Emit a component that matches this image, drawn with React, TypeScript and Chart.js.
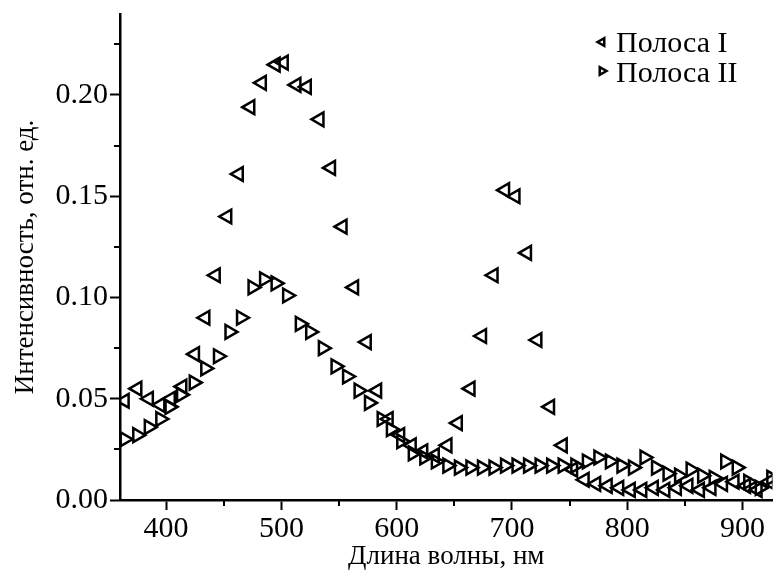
import React, { useEffect, useRef } from 'react';
import { Chart, registerables } from 'chart.js';

Chart.register(...registerables);

// ---- data ----
const seriesLabels = ['Полоса I', 'Полоса II'];

const band1Wavelengths = [364, 375, 385, 395, 404, 414, 425, 434, 443, 453, 463, 473, 483, 495, 502, 513, 522, 533, 543, 553, 563, 574, 583, 593, 603, 613, 623, 633, 644, 653, 664, 674, 684, 694, 703, 713, 722, 733, 744, 753, 763, 773, 783, 793, 803, 813, 823, 833, 843, 853, 863, 873, 883, 893, 903, 913, 923];
const band1Values = [0.049, 0.055, 0.050, 0.047, 0.050, 0.056, 0.072, 0.090, 0.111, 0.140, 0.161, 0.194, 0.206, 0.215, 0.216, 0.205, 0.204, 0.188, 0.164, 0.135, 0.105, 0.078, 0.054, 0.040, 0.032, 0.027, 0.024, 0.022, 0.027, 0.038, 0.055, 0.081, 0.111, 0.153, 0.150, 0.122, 0.079, 0.046, 0.027, 0.015, 0.010, 0.008, 0.007, 0.006, 0.005, 0.005, 0.006, 0.005, 0.006, 0.007, 0.005, 0.006, 0.008, 0.009, 0.007, 0.005, 0.009];

const band2Wavelengths = [364, 375, 385, 395, 403, 413, 424, 434, 445, 455, 465, 475, 485, 495, 505, 516, 525, 536, 547, 557, 567, 576, 587, 595, 604, 614, 624, 634, 644, 654, 664, 674, 684, 694, 704, 714, 724, 734, 744, 755, 765, 775, 785, 795, 805, 815, 825, 835, 845, 855, 865, 875, 885, 895, 905, 915, 925];
const band2Values = [0.030, 0.032, 0.036, 0.040, 0.046, 0.052, 0.058, 0.065, 0.071, 0.083, 0.090, 0.105, 0.109, 0.107, 0.101, 0.087, 0.083, 0.075, 0.066, 0.061, 0.054, 0.048, 0.040, 0.035, 0.029, 0.023, 0.021, 0.019, 0.017, 0.016, 0.016, 0.016, 0.016, 0.017, 0.017, 0.017, 0.017, 0.017, 0.017, 0.017, 0.019, 0.021, 0.019, 0.017, 0.016, 0.021, 0.016, 0.013, 0.012, 0.015, 0.012, 0.011, 0.019, 0.016, 0.009, 0.006, 0.011];

const xAxisTitle = 'Длина волны, нм';
const yAxisTitle = 'Интенсивность, отн. ед.';
const xMin = 360;
const xMax = 926;
const xStep = 100;
const yMin = 0;
const yMax = 0.24;
const yStep = 0.05;

const FONT = "'Liberation Serif', 'Times New Roman', serif";
const markerRotations = [-90, 90];

function drawTriangle(ctx: CanvasRenderingContext2D, x: number, y: number, r: number, rotDeg: number) {
  let rad = (rotDeg * Math.PI) / 180;
  ctx.beginPath();
  for (let k = 0; k < 3; k++) {
    const px = x + Math.sin(rad) * r;
    const py = y - Math.cos(rad) * r;
    if (k === 0) ctx.moveTo(px, py);
    else ctx.lineTo(px, py);
    rad += (2 * Math.PI) / 3;
  }
  ctx.closePath();
  ctx.stroke();
}

const minorTicksPlugin = {
  id: 'minorTicks',
  afterDraw(chart: any) {
    const { ctx, chartArea, scales } = chart;
    ctx.save();
    ctx.strokeStyle = '#000';
    ctx.lineWidth = 2;
    const ys = scales.y;
    for (let v = yStep / 2; v < yMax; v += yStep) {
      const py = Math.round(ys.getPixelForValue(v));
      ctx.beginPath();
      ctx.moveTo(chartArea.left - 6, py);
      ctx.lineTo(chartArea.left, py);
      ctx.stroke();
    }
    const xs = scales.x;
    for (let v = Math.floor(xMin / xStep) * xStep + xStep / 2; v < xMax; v += xStep) {
      if (v <= xMin) continue;
      const px = Math.round(xs.getPixelForValue(v));
      ctx.beginPath();
      ctx.moveTo(px, chartArea.bottom);
      ctx.lineTo(px, chartArea.bottom + 6);
      ctx.stroke();
    }
    ctx.restore();
  },
};

const legendPlugin = {
  id: 'cornerLegend',
  afterDraw(chart: any) {
    const { ctx } = chart;
    ctx.save();
    ctx.font = `30px ${FONT}`;
    ctx.fillStyle = '#000';
    ctx.strokeStyle = '#000';
    ctx.lineWidth = 2.5;
    ctx.textBaseline = 'alphabetic';
    chart.data.datasets.forEach((ds: any, i: number) => {
      const cy = 42 + i * 29;
      drawTriangle(ctx, 602, cy, 4.5, markerRotations[i]);
      ctx.fillText(ds.label, 616, 52 + i * 30);
    });
    ctx.restore();
  },
};

export default function App() {
  const canvasRef = useRef<HTMLCanvasElement | null>(null);

  useEffect(() => {
    if (!canvasRef.current) return;
    const makePoints = (xs: number[], ys: number[]) => xs.map((x, i) => ({ x, y: ys[i] }));
    const makeDataset = (i: number, xs: number[], ys: number[]) => ({
      label: seriesLabels[i],
      data: makePoints(xs, ys),
      pointStyle: 'triangle',
      rotation: markerRotations[i],
      pointRadius: 8,
      pointHoverRadius: 8,
      borderColor: '#000',
      backgroundColor: 'rgba(0,0,0,0)',
      borderWidth: 2.5,
      showLine: false,
      clip: { left: 0, right: 0, top: false, bottom: false },
    });
    const chart = new Chart(canvasRef.current, {
      type: 'scatter',
      data: {
        datasets: [
          makeDataset(0, band1Wavelengths, band1Values),
          makeDataset(1, band2Wavelengths, band2Values),
        ] as any,
      },
      options: {
        animation: false,
        responsive: false,
        devicePixelRatio: 1,
        layout: { padding: { top: 14, right: 0, left: 0, bottom: 0 } },
        plugins: {
          legend: { display: false },
          tooltip: { enabled: false },
        },
        scales: {
          x: {
            type: 'linear',
            min: xMin,
            max: xMax,
            afterFit: (scale: any) => {
              scale.height = 74;
              scale.paddingLeft = 0;
              scale.paddingRight = 0;
            },
            ticks: {
              stepSize: xStep,
              includeBounds: false,
              color: '#000',
              font: { family: FONT, size: 30 },
              padding: 1,
              maxRotation: 0,
              callback: (v: any) => String(v),
            },
            grid: {
              drawOnChartArea: false,
              drawTicks: true,
              tickLength: 10,
              tickWidth: 2,
              tickColor: '#000',
            },
            border: { display: true, color: '#000', width: 2.5 },
            title: {
              display: true,
              text: xAxisTitle,
              color: '#000',
              font: { family: FONT, size: 27 },
              padding: { top: 0, bottom: 1 },
            },
          },
          y: {
            type: 'linear',
            min: yMin,
            max: yMax,
            afterFit: (scale: any) => {
              scale.width = 120;
              scale.paddingTop = 0;
              scale.paddingBottom = 0;
            },
            ticks: {
              stepSize: yStep,
              includeBounds: false,
              color: '#000',
              font: { family: FONT, size: 30 },
              padding: 2,
              callback: (v: any) => Number(v).toFixed(2),
            },
            grid: {
              drawOnChartArea: false,
              drawTicks: true,
              tickLength: 10,
              tickWidth: 2,
              tickColor: '#000',
            },
            border: { display: true, color: '#000', width: 2.5 },
            title: {
              display: true,
              text: yAxisTitle,
              color: '#000',
              font: { family: FONT, size: 27 },
              padding: { top: 10, bottom: 0 },
            },
          },
        },
      },
      plugins: [minorTicksPlugin, legendPlugin],
    });
    return () => chart.destroy();
  }, []);

  return (
    <div style={{ position: 'fixed', left: 0, top: 0, width: 773, height: 574, overflow: 'hidden', background: '#fff' }}>
      <canvas ref={canvasRef} width={783} height={574} style={{ display: 'block' }} />
    </div>
  );
}
